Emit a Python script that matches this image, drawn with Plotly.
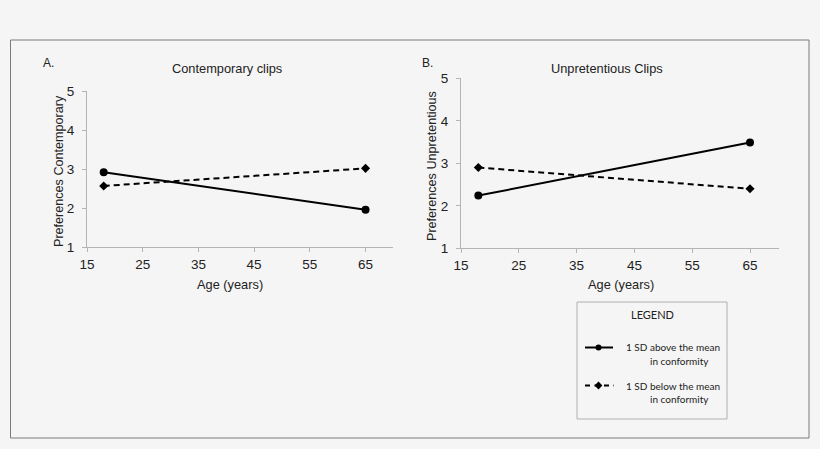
import plotly.graph_objects as go

# data
ages = [18, 65]
contemp_above = [2.92, 1.96]
contemp_below = [2.57, 3.02]
unpret_above = [2.24, 3.49]
unpret_below = [2.90, 2.40]

x_ticks = [15, 25, 35, 45, 55, 65]
y_ticks = [1, 2, 3, 4, 5]

W, H = 820, 449
BG = "#f5f5f5"
AXIS_GRAY = "#b4b4b4"
ARIAL = "Liberation Sans, Arial, sans-serif"
CALIBRI = "Lato, Liberation Sans, sans-serif"


def px(x):
    return x / W


def py(y):
    return 1 - y / H


fig = go.Figure()

panels = [
    ("x", "y", contemp_above, contemp_below),
    ("x2", "y2", unpret_above, unpret_below),
]
for xa, ya, above, below in panels:
    fig.add_trace(go.Scatter(
        x=ages, y=below, xaxis=xa, yaxis=ya, mode="lines+markers",
        line=dict(color="black", width=2, dash="6px,4px"),
        marker=dict(symbol="diamond", size=7, color="black"),
        showlegend=False, hoverinfo="x+y",
    ))
    fig.add_trace(go.Scatter(
        x=ages, y=above, xaxis=xa, yaxis=ya, mode="lines+markers",
        line=dict(color="black", width=2),
        marker=dict(symbol="circle", size=8, color="black"),
        showlegend=False, hoverinfo="x+y",
    ))

# legend glyphs, drawn on a hidden pixel-space overlay axis
fig.add_trace(go.Scatter(
    x=[585, 613], y=[347.5, 347.5], xaxis="x3", yaxis="y3", mode="lines",
    line=dict(color="black", width=2), showlegend=False, hoverinfo="skip",
))
fig.add_trace(go.Scatter(
    x=[598.5], y=[347.5], xaxis="x3", yaxis="y3", mode="markers",
    marker=dict(symbol="circle", size=6, color="black"),
    showlegend=False, hoverinfo="skip",
))
fig.add_trace(go.Scatter(
    x=[585, 614], y=[385.5, 385.5], xaxis="x3", yaxis="y3", mode="lines",
    line=dict(color="black", width=2, dash="5px,4.5px"),
    showlegend=False, hoverinfo="skip",
))
fig.add_trace(go.Scatter(
    x=[598.5], y=[385.5], xaxis="x3", yaxis="y3", mode="markers",
    marker=dict(symbol="diamond", size=6, color="black"),
    showlegend=False, hoverinfo="skip",
))

axis_common = dict(
    showline=True, linecolor=AXIS_GRAY, linewidth=1,
    ticks="outside", ticklen=4, tickcolor=AXIS_GRAY,
    showgrid=False, zeroline=False, automargin=False,
    tickfont=dict(family=ARIAL, size=13.5, color="#222222"),
    fixedrange=True,
)

fig.update_layout(
    template="none",
    width=W, height=H,
    margin=dict(l=0, r=0, t=0, b=0, pad=0, autoexpand=False),
    paper_bgcolor=BG, plot_bgcolor="rgba(0,0,0,0)",
    xaxis=dict(domain=[px(87), px(393.4)], range=[15, 70], tickvals=x_ticks,
               anchor="y", **axis_common),
    yaxis=dict(domain=[py(247.3), py(91)], range=[1, 5], tickvals=y_ticks,
               anchor="x", ticklabelstandoff=5, **axis_common),
    xaxis2=dict(domain=[px(461), px(778.9)], range=[15, 70], tickvals=x_ticks,
                anchor="y2", **axis_common),
    yaxis2=dict(domain=[py(248.3), py(78.3)], range=[1, 5], tickvals=y_ticks,
                anchor="x2", ticklabelstandoff=5, **axis_common),
    xaxis3=dict(domain=[0, 1], range=[0, W], visible=False, fixedrange=True,
                automargin=False, anchor="y3"),
    yaxis3=dict(domain=[0, 1], range=[H, 0], visible=False, fixedrange=True,
                automargin=False, anchor="x3"),
    showlegend=False,
)

# outer frame and legend box
fig.add_shape(type="rect", xref="x3", yref="y3", x0=10.5, x1=809, y0=40, y1=438,
              line=dict(color="#7a7a7a", width=1), fillcolor="rgba(0,0,0,0)")
fig.add_shape(type="rect", xref="x3", yref="y3", x0=577, x1=727, y0=302, y1=419,
              line=dict(color="#b0b0b0", width=1), fillcolor="rgba(0,0,0,0)")

texts = [
    # text, x, y, anchor, font, size, angle
    ("A.", 41, 63, "left", ARIAL, 12, 0),
    ("Contemporary clips", 227, 68, "center", ARIAL, 12.8, 0),
    ("B.", 420, 63, "left", ARIAL, 12, 0),
    ("Unpretentious Clips", 607, 68, "center", ARIAL, 12.8, 0),
    ("Age (years)", 230, 284, "center", ARIAL, 12.8, 0),
    ("Age (years)", 621, 284, "center", ARIAL, 12.8, 0),
    ("Preferences Contemporary", 59, 171, "center", ARIAL, 12.6, -90),
    ("Preferences Unpretentious", 432, 166, "center", ARIAL, 12.6, -90),
    ("LEGEND", 652, 314, "center", CALIBRI, 11, 0),
    ("1 SD above the mean", 624, 347, "left", CALIBRI, 10, 0),
    ("in conformity", 648, 361, "left", CALIBRI, 10, 0),
    ("1 SD below the mean", 624, 385.5, "left", CALIBRI, 10, 0),
    ("in conformity", 648, 398.5, "left", CALIBRI, 10, 0),
]
for text, x, y, anchor, fam, size, angle in texts:
    fig.add_annotation(
        text=text, x=x, y=y, xref="x3", yref="y3",
        xanchor=anchor, yanchor="middle", showarrow=False, textangle=angle,
        font=dict(family=fam, size=size, color="#222222"),
    )

# drop the default 8px body margin so the 820x449 figure fills the window
fig.write_html("out.html", config={"displayModeBar": False},
               post_script="document.body.style.margin='0';")
